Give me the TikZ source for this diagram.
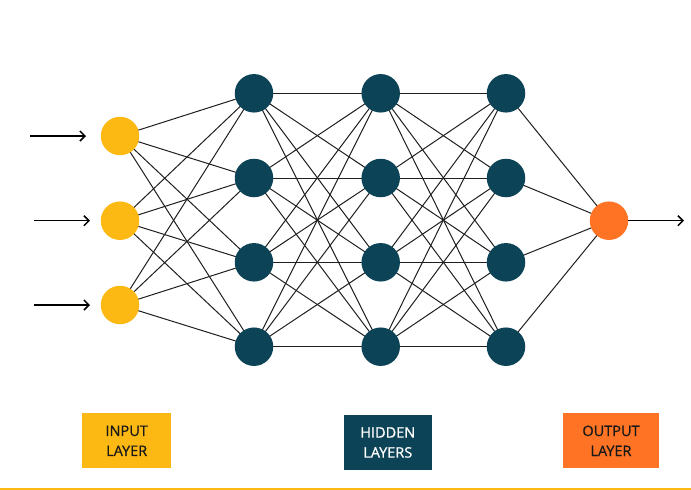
\documentclass[tikz,border=0pt]{standalone}
\usepackage{fontspec}
\setmainfont{Open Sans}
\newfontfamily\labelfont[FakeBold=0.7]{Open Sans}
\usetikzlibrary{arrows.meta,backgrounds}
\definecolor{nnyellow}{HTML}{FDB913}
\definecolor{nnteal}{HTML}{0C4356}
\definecolor{nnorange}{HTML}{FF7324}
\begin{document}
\begin{tikzpicture}[x=1pt,y=-1pt,
  neuron/.style={circle,minimum size=38.5pt,inner sep=0pt},
  inneuron/.style={neuron,fill=nnyellow},
  hidneuron/.style={neuron,fill=nnteal},
  outneuron/.style={neuron,fill=nnorange},
  link/.style={draw=black!88,line width=1pt},
  flow/.style={draw=black,line width=1.5pt,-{Straight Barb[length=5pt,width=10pt]}},
  labelbox/.style={font=\labelfont\fontsize{14.5}{20}\selectfont,align=center,inner sep=0pt}
]
\useasboundingbox (0,0) rectangle (691,490);
% input layer
\foreach \i/\y in {1/136,2/220.7,3/305}
  \node[inneuron] (i\i) at (120,\y) {};
% hidden layers
\foreach \l/\x in {1/254,2/380.7,3/506}
  \foreach \j/\y in {1/93.3,2/178,3/262.3,4/346.7}
    \node[hidneuron] (h\l\j) at (\x,\y) {};
% output
\node[outneuron] (o) at (609,220.7) {};
% connections
\begin{scope}[on background layer]
\foreach \i in {1,2,3}
  \foreach \j in {1,2,3,4}
    \draw[link] (i\i.center) -- (h1\j.center);
\foreach \a in {1,2,3,4}
  \foreach \b in {1,2,3,4}
  {
    \draw[link] (h1\a.center) -- (h2\b.center);
    \draw[link] (h2\a.center) -- (h3\b.center);
  }
\foreach \j in {1,2,3,4}
  \draw[link] (h3\j.center) -- (o.center);
\end{scope}
% input arrows
\coordinate (s1) at (30,136);
\coordinate (s2) at (34,220.7);
\coordinate (s3) at (34,305);
\coordinate (e1) at (86,136);
\coordinate (e2) at (90,220.7);
\coordinate (e3) at (90,305);
\foreach \i in {1,2,3}
  \draw[flow] (s\i) -- (e\i);
\coordinate (oe) at (684,220.7);
\draw[flow] (o) -- (oe);
% legend boxes
\fill[nnyellow] (82.3,413.3) rectangle (171,468.3);
\node[labelbox,text=black!90] (lin) at (126.7,440.8) {INPUT\\LAYER};
\fill[nnteal] (344,415) rectangle (431.7,470);
\node[labelbox,text=white] (lhid) at (387.8,442.5) {HIDDEN\\LAYERS};
\fill[nnorange] (562.7,413.3) rectangle (659.3,468.3);
\node[labelbox,text=black!90] (lout) at (611,440.8) {OUTPUT\\LAYER};
% bottom rule
\draw[nnyellow,line width=1.6pt] (0,488.8) -- (691,488.8);
\end{tikzpicture}
\end{document}
